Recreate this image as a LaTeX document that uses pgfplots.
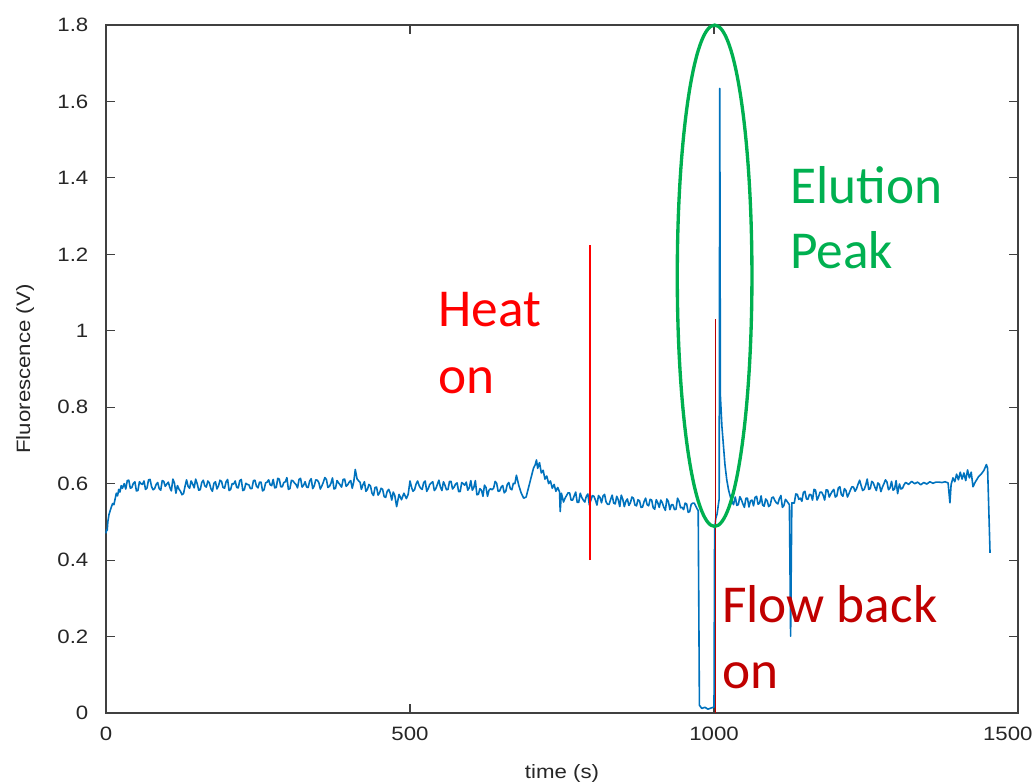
\documentclass[border=0pt]{standalone}
\usepackage{pgfplots}
\pgfplotsset{compat=1.18}
\usepackage{fontspec}
\setmainfont{Liberation Sans}
\newfontfamily\calfont{Carlito}
\definecolor{mblue}{HTML}{0072BD}
\definecolor{egreen}{HTML}{00B050}
\definecolor{hred}{HTML}{FF0000}
\definecolor{dred}{HTML}{C00000}
\definecolor{axgray}{HTML}{404040}
\pgfplotstableread{
t v
0 0.470
1 0.480
2 0.478
3 0.500
5 0.520
7 0.530
9 0.540
11 0.548
13 0.545
15 0.560
17 0.575
19 0.568
21 0.585
23 0.578
25 0.595
27 0.588
30 0.600
32.5 0.586
35 0.608
37.5 0.609
40 0.588
42.5 0.590
45 0.601
47.5 0.605
50 0.581
52.5 0.582
55 0.605
57.5 0.600
60 0.598
62.5 0.607
65 0.585
67.5 0.589
70 0.610
72.5 0.611
75 0.592
77.5 0.584
80 0.587
82.5 0.598
85 0.603
87.5 0.587
90 0.583
92.5 0.608
95 0.606
97.5 0.593
100 0.599
102.5 0.604
105 0.590
107.5 0.581
110 0.612
112.5 0.602
115 0.575
117.5 0.595
120 0.586
122.5 0.580
125 0.571
127.5 0.574
130 0.593
132.5 0.610
135 0.593
137.5 0.588
140 0.607
142.5 0.599
145 0.589
147.5 0.612
150 0.600
152.5 0.583
155 0.584
157.5 0.603
160 0.609
162.5 0.594
165 0.591
167.5 0.607
170 0.602
172.5 0.587
175 0.580
177.5 0.601
180 0.605
182.5 0.586
185 0.594
187.5 0.609
190 0.606
192.5 0.590
195 0.588
197.5 0.605
200 0.611
202.5 0.582
205 0.585
207.5 0.600
210 0.599
212.5 0.607
215 0.590
217.5 0.589
220 0.608
222.5 0.611
225 0.582
227.5 0.584
230 0.601
232.5 0.598
235 0.597
237.5 0.587
240 0.587
242.5 0.608
245 0.609
247.5 0.593
250 0.589
252.5 0.604
255 0.604
257.5 0.581
260 0.584
262.5 0.602
265 0.604
267.5 0.610
270 0.597
272.5 0.595
275 0.611
277.5 0.589
280 0.590
282.5 0.614
285 0.612
287.5 0.592
290 0.592
292.5 0.603
295 0.605
297.5 0.616
300 0.585
302.5 0.587
305 0.609
307.5 0.607
310 0.602
312.5 0.598
315 0.589
317.5 0.611
320 0.614
322.5 0.591
325 0.596
327.5 0.605
330 0.591
332.5 0.590
335 0.607
337.5 0.613
340 0.587
342.5 0.594
345 0.610
347.5 0.609
350 0.603
352.5 0.586
355 0.594
357.5 0.604
360 0.616
362.5 0.611
365 0.590
367.5 0.593
370 0.601
372.5 0.615
375 0.586
377.5 0.588
380 0.608
382.5 0.602
385 0.597
387.5 0.591
390 0.611
392.5 0.612
395 0.593
397.5 0.597
400 0.604
402.5 0.608
405 0.588
407.5 0.605
410 0.637
413 0.612
418 0.603
420 0.585
422.5 0.597
425 0.605
427.5 0.580
430 0.585
432.5 0.598
435 0.594
437.5 0.575
440 0.569
442.5 0.590
445 0.591
447.5 0.570
450 0.576
452.5 0.588
455 0.585
457.5 0.566
460 0.564
462.5 0.580
465 0.585
467.5 0.575
470 0.557
472.5 0.578
475 0.569
478 0.540
482 0.572
486 0.558
490 0.575
494 0.561
497 0.572
500 0.607
503 0.588
505 0.580
507.5 0.584
510 0.599
512.5 0.607
515 0.595
517.5 0.588
520 0.585
522.5 0.603
525 0.607
527.5 0.580
530 0.587
532.5 0.598
535 0.602
537.5 0.605
540 0.582
542.5 0.587
545 0.598
547.5 0.609
550 0.591
552.5 0.582
555 0.605
557.5 0.596
560 0.584
562.5 0.585
565 0.606
567.5 0.606
570 0.586
572.5 0.591
575 0.599
577.5 0.602
580 0.579
582.5 0.579
585 0.603
587.5 0.600
590 0.596
592.5 0.604
595 0.583
597.5 0.589
600 0.608
602.5 0.583
605 0.590
607.5 0.608
610 0.571
612.5 0.572
615 0.587
617.5 0.583
620 0.567
622.5 0.596
625 0.590
627.5 0.567
630 0.583
632.5 0.587
635 0.584
637.5 0.588
640 0.606
642.5 0.601
645 0.580
647.5 0.581
650 0.591
652.5 0.595
655 0.576
657.5 0.580
660 0.598
662.5 0.603
665 0.587
667.5 0.584
670 0.601
672.5 0.600
675 0.622
679 0.595
683 0.575
687 0.562
691 0.565
695 0.590
699 0.615
703 0.640
706 0.650
708 0.662
710 0.640
713 0.655
716 0.628
719 0.635
722 0.612
725 0.620
728 0.600
731 0.607
734 0.588
737 0.598
740 0.580
743 0.590
746 0.578
747 0.527
749 0.575
752.5 0.552
755 0.562
757.5 0.569
760 0.576
762.5 0.576
765 0.557
767.5 0.557
770 0.568
772.5 0.578
775 0.551
777.5 0.551
780 0.575
782.5 0.564
785 0.557
787.5 0.552
790 0.567
792.5 0.573
795 0.544
797.5 0.557
800 0.569
802.5 0.567
805 0.557
807.5 0.544
810 0.569
812.5 0.564
815 0.550
817.5 0.568
820 0.572
822.5 0.552
825 0.546
827.5 0.546
830 0.559
832.5 0.570
835 0.549
837.5 0.547
840 0.567
842.5 0.558
845 0.540
847.5 0.570
850 0.559
852.5 0.540
855 0.554
857.5 0.560
860 0.543
862.5 0.550
865 0.565
867.5 0.562
870 0.544
872.5 0.542
875 0.558
877.5 0.555
880 0.538
882.5 0.539
885 0.553
887.5 0.562
890 0.545
892.5 0.542
895 0.559
897.5 0.557
900 0.537
902.5 0.533
905 0.558
907.5 0.550
910 0.538
912.5 0.557
915 0.550
917.5 0.538
920 0.530
922.5 0.560
925 0.553
927.5 0.532
930 0.545
932.5 0.545
935 0.532
937.5 0.533
940 0.562
942.5 0.554
945 0.537
947.5 0.538
950 0.532
952.5 0.549
955 0.547
957.5 0.525
960 0.527
962.5 0.546
965 0.549
967.5 0.549
970 0.541
972.5 0.533
974 0.530
976 0.020
980 0.012
985 0.015
990 0.010
995 0.013
999 0.015
1000 0.015
1001 0.480
1003 0.510
1005 0.520
1008.5 0.560
1009.5 1.634
1010.5 0.830
1013 0.750
1016 0.690
1018 0.650
1021 0.610
1024 0.583
1027 0.565
1029 0.557
1032 0.545
1035 0.565
1037.5 0.543
1040 0.545
1042.5 0.566
1045 0.558
1047.5 0.547
1050 0.538
1052.5 0.562
1055 0.562
1057.5 0.539
1060 0.555
1062.5 0.557
1065 0.542
1067.5 0.564
1070 0.567
1072.5 0.546
1075 0.549
1077.5 0.568
1080 0.544
1082.5 0.541
1085 0.560
1087.5 0.555
1090 0.540
1092.5 0.544
1095 0.563
1097.5 0.565
1100 0.556
1102.5 0.550
1105 0.547
1107.5 0.561
1110 0.569
1112.5 0.538
1115 0.543
1117.5 0.559
1120 0.554
1124 0.545
1126 0.201
1128 0.550
1132 0.549
1134.5 0.573
1137 0.572
1139.5 0.559
1142 0.562
1144.5 0.554
1147 0.577
1149.5 0.580
1152 0.560
1154.5 0.559
1157 0.572
1159.5 0.571
1162 0.557
1164.5 0.585
1167 0.583
1169.5 0.557
1172 0.566
1174.5 0.578
1177 0.578
1179.5 0.570
1182 0.557
1184.5 0.584
1187 0.583
1189.5 0.565
1192 0.573
1194.5 0.580
1197 0.585
1199.5 0.565
1202 0.568
1204.5 0.589
1207 0.592
1209.5 0.571
1212 0.567
1214.5 0.587
1217 0.582
1219.5 0.565
1222 0.574
1224.5 0.584
1227 0.592
1229.5 0.591
1232 0.580
1234.5 0.587
1237 0.599
1239.5 0.609
1242 0.595
1244.5 0.582
1247 0.585
1249.5 0.596
1252 0.612
1254.5 0.585
1257 0.587
1259.5 0.606
1262 0.602
1264.5 0.591
1267 0.582
1269.5 0.602
1272 0.598
1274.5 0.579
1277 0.591
1279.5 0.600
1282 0.610
1284.5 0.604
1287 0.584
1289.5 0.589
1292 0.606
1294.5 0.583
1297 0.586
1299.5 0.608
1302 0.574
1305 0.599
1307.5 0.586
1310 0.588
1312.5 0.597
1315 0.603
1317.5 0.601
1320 0.598
1325 0.606
1330 0.600
1335 0.604
1340 0.597
1345 0.603
1350 0.599
1355 0.605
1360 0.601
1365 0.604
1370 0.604
1375 0.603
1380 0.605
1385 0.602
1388 0.550
1390 0.598
1393 0.615
1396 0.605
1399 0.625
1402 0.610
1405 0.630
1408 0.612
1411 0.628
1414 0.608
1417 0.636
1420 0.615
1423 0.630
1426 0.592
1430 0.605
1435 0.618
1440 0.626
1444 0.635
1448 0.650
1450 0.640
1454 0.419
}\fluor
\begin{document}
\begin{tikzpicture}
\useasboundingbox (-79.5pt,-53.25pt) rectangle (696pt,534.75pt);
\begin{axis}[
  scale only axis,
  width=684pt, height=516pt,
  xmin=0, xmax=1500, ymin=0, ymax=1.8,
  xtick={0,500,1000,1500},
  xticklabels={0,500,1000,\makebox[19pt][r]{1500}},
  ytick={0,0.2,0.4,0.6,0.8,1,1.2,1.4,1.6,1.8},
  yticklabels={0,0.2,0.4,0.6,0.8,1,1.2,1.4,1.6,1.8},
  /pgf/number format/1000 sep={},
  /pgf/number format/assume math mode=true,
  tick align=inside,
  xtick pos=both, ytick pos=both,
  major tick length=6.5pt,
  tick style={axgray, line width=0.8pt},
  axis line style={axgray, line width=0.8pt},
  ticklabel style={font=\fontsize{14.5}{17}\selectfont, text=black!85, xscale=1.15},
  xticklabel style={yshift=-7pt},
  yticklabel style={xshift=-8pt},
  xlabel={time (s)},
  ylabel={Fluorescence (V)},
  label style={font=\fontsize{14.5}{17}\selectfont, text=black!85},
  xlabel style={at={(axis description cs:0.5,-0.0945)}, anchor=base, xscale=1.15},
  ylabel style={at={(axis description cs:-0.0833,0.5)}, anchor=base, xscale=1.15},
  clip=false,
]
\addplot[mblue, line width=1.2pt, line join=round] table {\fluor};
% annotation lines
\addplot[hred, line width=1pt] coordinates {(796,0.40) (796,1.225)};
\addplot[dred, line width=1pt] coordinates {(1003,0) (1003,1.03)};
% ellipse
\draw[egreen, line width=2.5pt] (axis cs:1001,1.144) ellipse [x radius=28pt, y radius=188pt];
% labels
\node[anchor=base west, text=hred, font=\calfont\fontsize{40}{48}\selectfont, inner sep=0pt] at (axis cs:546,1.010) {Heat};
\node[anchor=base west, text=hred, font=\calfont\fontsize{40}{48}\selectfont, inner sep=0pt] at (axis cs:546,0.837) {on};
\node[anchor=base west, text=egreen, font=\calfont\fontsize{40}{48}\selectfont, inner sep=0pt] at (axis cs:1125,1.334) {Elution};
\node[anchor=base west, text=egreen, font=\calfont\fontsize{40}{48}\selectfont, inner sep=0pt] at (axis cs:1125,1.164) {Peak};
\node[anchor=base west, text=dred, font=\calfont\fontsize{40}{48}\selectfont, inner sep=0pt] at (axis cs:1013,0.238) {Flow back};
\node[anchor=base west, text=dred, font=\calfont\fontsize{40}{48}\selectfont, inner sep=0pt] at (axis cs:1013,0.065) {on};
\end{axis}
\end{tikzpicture}
\end{document}
